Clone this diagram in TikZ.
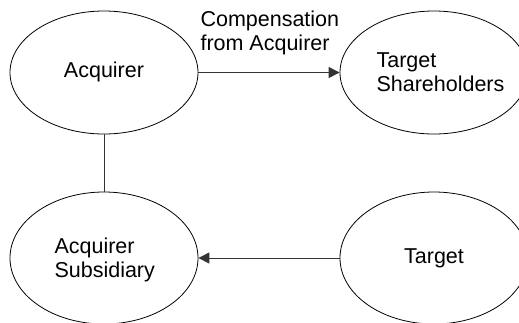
\documentclass[tikz,border=0pt]{standalone}
\usepackage{fontspec}
\setmainfont{Liberation Sans}
\usetikzlibrary{shapes.geometric,arrows.meta}
\begin{document}
\begin{tikzpicture}[x=1pt,y=-1pt,
  every node/.style={font=\fontsize{21.5}{24.5}\selectfont},
  topell/.style={draw=black,line width=0.8pt,ellipse,minimum width=188pt,minimum height=123pt,inner sep=0pt},
  botell/.style={draw=black,line width=0.8pt,ellipse,minimum width=188pt,minimum height=132pt,inner sep=0pt},
  conn/.style={draw=black!80,line width=1pt},
  tip/.style={-{Triangle[length=11pt,width=11pt]}}]
\useasboundingbox (0,0) rectangle (519,322);
\clip (0,0) rectangle (519,322);
\node[topell] (acq) at (104,72.5) {};
\node at (104,72) {Acquirer};
\node[topell] (tsh) at (434,72.5) {};
\node[align=left,anchor=west] at (373,72) {Target\\Shareholders};
\node[botell] (sub) at (104,258) {};
\node[align=left,anchor=west] at (51,260) {Acquirer\\Subsidiary};
\node[botell] (tgt) at (434,258) {};
\node at (434,258) {Target};
\node[align=left,anchor=west] (lbl) at (197,33) {Compensation\\from Acquirer};
\draw[conn,tip] (acq.east) -- (tsh.west);
\draw[conn] (acq.south) -- (sub.north);
\draw[conn,tip] (tgt.west) -- (sub.east);
\end{tikzpicture}
\end{document}
